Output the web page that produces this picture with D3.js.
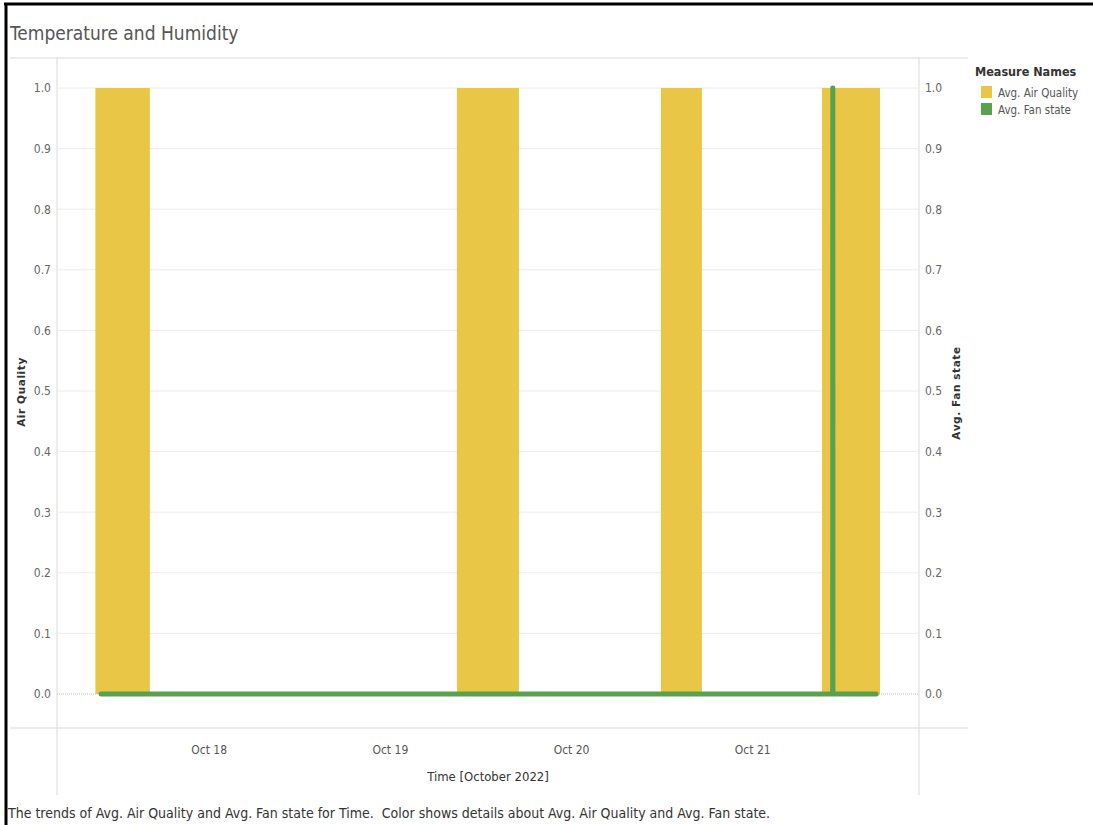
<!DOCTYPE html>
<html>
<head>
<meta charset="utf-8">
<script src="https://cdn.jsdelivr.net/npm/d3@7"></script>
<style>
  html, body { margin: 0; padding: 0; background: #fff; overflow: hidden; }
  svg { display: block; }
  .narrow { font-family: "Liberation Sans Narrow", "DejaVu Sans Condensed", "Roboto Condensed", "Arial Narrow", sans-serif; }
</style>
</head>
<body>
<svg id="chart" width="1093" height="825"></svg>
<script>
// ---- data ----
const parse = d3.timeParse("%Y-%m-%d %H:%M");

// periods where the average air quality reading was 1.0
const airStart  = ["2022-10-17 09:00", "2022-10-19 08:53", "2022-10-20 11:54", "2022-10-21 09:14"];
const airEnd    = ["2022-10-17 16:13", "2022-10-19 17:06", "2022-10-20 17:20", "2022-10-21 16:55"];
const airValues = [1.0, 1.0, 1.0, 1.0];

// fan state readings over time
const fanTimes  = ["2022-10-17 09:45", "2022-10-21 10:39", "2022-10-21 10:40", "2022-10-21 10:41", "2022-10-21 16:25"];
const fanValues = [0, 0, 1, 0, 0];

const yTicks = [0, 0.1, 0.2, 0.3, 0.4, 0.5, 0.6, 0.7, 0.8, 0.9, 1.0];
const dayTicks = ["2022-10-18 00:00", "2022-10-19 00:00", "2022-10-20 00:00", "2022-10-21 00:00"];

const legendLabels = ["Avg. Air Quality", "Avg. Fan state"];
const colors = { air: "#E9C646", fan: "#59A14F" };

// ---- layout ----
const svg = d3.select("#chart");
const W = 1093, H = 825;
const plot = { left: 57, right: 919, top: 58, bottom: 728 };

const x = d3.scaleTime()
  .domain([parse("2022-10-17 03:55"), parse("2022-10-21 22:05")])
  .range([plot.left, plot.right]);
const y = d3.scaleLinear().domain([0, 1]).range([694, 88]);

// outer frame (top + left edges)
svg.append("line").attr("x1", 4).attr("x2", W).attr("y1", 4).attr("y2", 4)
  .attr("stroke", "#000").attr("stroke-width", 3);
svg.append("line").attr("x1", 6).attr("x2", 6).attr("y1", 3).attr("y2", H)
  .attr("stroke", "#000").attr("stroke-width", 3);

// title
svg.append("text").attr("class", "narrow")
  .attr("x", 10).attr("y", 40)
  .attr("font-size", 19).attr("fill", "#555")
  .text("Temperature and Humidity");

// pane borders
const border = "#d9d9d9";
svg.append("line").attr("x1", 10).attr("x2", 968).attr("y1", plot.top).attr("y2", plot.top)
  .attr("stroke", border);
svg.append("line").attr("x1", 10).attr("x2", 968).attr("y1", plot.bottom).attr("y2", plot.bottom)
  .attr("stroke", border);
svg.append("line").attr("x1", plot.left).attr("x2", plot.left).attr("y1", plot.top).attr("y2", 795)
  .attr("stroke", border);
svg.append("line").attr("x1", plot.right).attr("x2", plot.right).attr("y1", plot.top).attr("y2", 795)
  .attr("stroke", border);

// gridlines
svg.append("g").selectAll("line")
  .data(yTicks.filter(v => v > 0))
  .join("line")
  .attr("x1", plot.left).attr("x2", plot.right)
  .attr("y1", d => y(d)).attr("y2", d => y(d))
  .attr("stroke", "#ececec");
// zero line
svg.append("line")
  .attr("x1", plot.left).attr("x2", plot.right)
  .attr("y1", y(0)).attr("y2", y(0))
  .attr("stroke", "#bbb").attr("stroke-dasharray", "1,1");

// air quality bars
const bars = airStart.map((s, i) => ({ s: parse(s), e: parse(airEnd[i]), v: airValues[i] }));
svg.append("g").selectAll("rect")
  .data(bars)
  .join("rect")
  .attr("x", d => x(d.s))
  .attr("width", d => x(d.e) - x(d.s))
  .attr("y", d => y(d.v))
  .attr("height", d => y(0) - y(d.v))
  .attr("fill", colors.air);

// fan state line
const fan = fanTimes.map((t, i) => ({ t: parse(t), v: fanValues[i] }));
svg.append("path")
  .datum(fan)
  .attr("fill", "none")
  .attr("stroke", colors.fan)
  .attr("stroke-width", 5)
  .attr("stroke-linecap", "round")
  .attr("stroke-linejoin", "round")
  .attr("d", d3.line().x(d => x(d.t)).y(d => y(d.v)));

// left axis
const fmt = d3.format(".1f");
const yAxisL = svg.append("g").attr("class", "narrow")
  .attr("transform", `translate(${plot.left - 6},0)`)
  .call(d3.axisLeft(y).tickValues(yTicks).tickFormat(fmt).tickSize(0).tickPadding(0));
yAxisL.select(".domain").remove();
yAxisL.selectAll("text").attr("font-size", 12).attr("fill", "#666");

// right axis
const yAxisR = svg.append("g").attr("class", "narrow")
  .attr("transform", `translate(${plot.right + 6},0)`)
  .call(d3.axisRight(y).tickValues(yTicks).tickFormat(fmt).tickSize(0).tickPadding(0));
yAxisR.select(".domain").remove();
yAxisR.selectAll("text").attr("font-size", 12).attr("fill", "#666");

// bottom axis
const xAxis = svg.append("g").attr("class", "narrow")
  .attr("transform", `translate(0,${plot.bottom})`)
  .call(d3.axisBottom(x).tickValues(dayTicks.map(parse))
    .tickFormat(d3.timeFormat("%b %-d")).tickSize(0).tickPadding(17));
xAxis.select(".domain").remove();
xAxis.selectAll("text").attr("font-size", 12).attr("fill", "#555");

// axis titles
svg.append("text")
  .attr("transform", `translate(25,392) rotate(-90)`)
  .attr("text-anchor", "middle")
  .attr("font-family", "DejaVu Sans, sans-serif")
  .attr("font-weight", "bold")
  .attr("font-size", 10.5)
  .attr("letter-spacing", 0.6)
  .attr("fill", "#333")
  .text("Air Quality");
svg.append("text")
  .attr("transform", `translate(960,393) rotate(-90)`)
  .attr("text-anchor", "middle")
  .attr("font-family", "DejaVu Sans, sans-serif")
  .attr("font-weight", "bold")
  .attr("font-size", 10.5)
  .attr("letter-spacing", 0.6)
  .attr("fill", "#333")
  .text("Avg. Fan state");
svg.append("text").attr("class", "narrow")
  .attr("x", 488).attr("y", 781)
  .attr("text-anchor", "middle")
  .attr("font-size", 13).attr("fill", "#333")
  .text("Time [October 2022]");

// legend
const lg = svg.append("g").attr("class", "narrow").attr("transform", "translate(975,0)");
lg.append("text").attr("x", 0).attr("y", 76)
  .attr("font-size", 12.5).attr("font-weight", "600").attr("fill", "#333")
  .text("Measure Names");
const items = lg.selectAll("g.item")
  .data(legendLabels.map((l, i) => ({ l, c: i === 0 ? colors.air : colors.fan })))
  .join("g").attr("class", "item")
  .attr("transform", (d, i) => `translate(0,${86 + i * 17})`);
items.append("rect").attr("x", 6).attr("y", 0).attr("width", 11).attr("height", 12).attr("fill", d => d.c);
items.append("text").attr("x", 23).attr("y", 11)
  .attr("font-size", 11.5).attr("fill", "#555").text(d => d.l);

// caption
svg.append("text").attr("class", "narrow")
  .attr("x", 8).attr("y", 818)
  .attr("font-size", 14).attr("fill", "#333")
  .style("white-space", "pre")
  .text("The trends of Avg. Air Quality and Avg. Fan state for Time.  Color shows details about Avg. Air Quality and Avg. Fan state.");
</script>
</body>
</html>
